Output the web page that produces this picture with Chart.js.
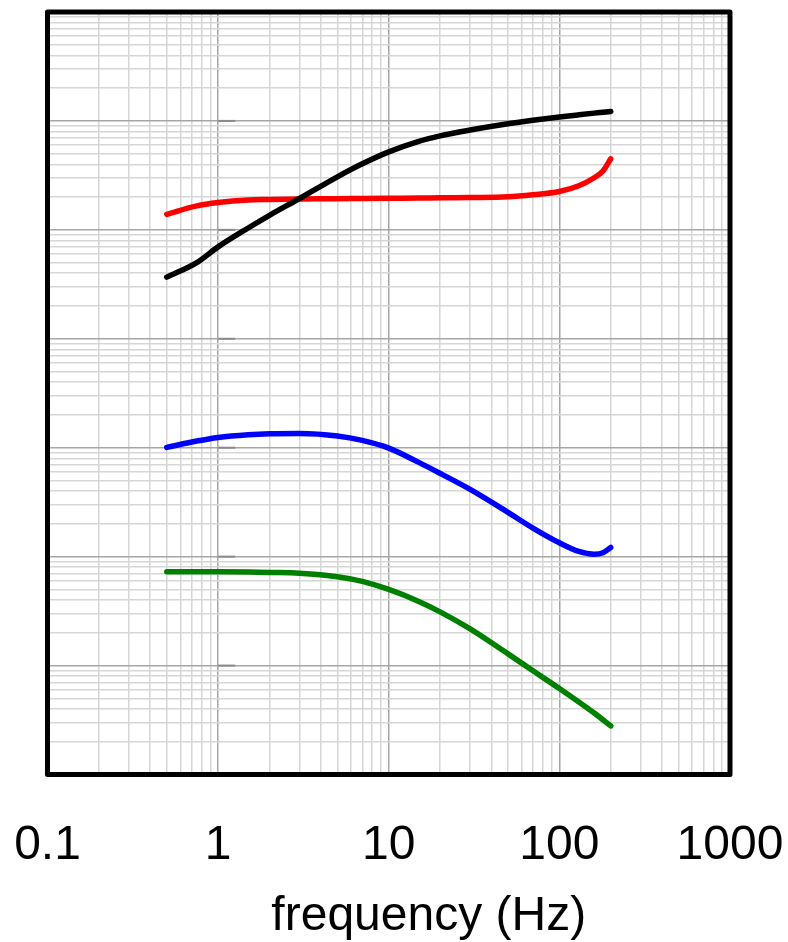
<!DOCTYPE html>
<html>
<head>
<meta charset="utf-8">
<script src="https://cdn.jsdelivr.net/npm/chart.js@4/dist/chart.umd.min.js"></script>
<style>
  html, body { margin: 0; padding: 0; background: #ffffff; }
  canvas { display: block; }
</style>
</head>
<body>
<canvas id="chart" width="788" height="942"></canvas>
<script>
// Sample frequencies (Hz) shared by all four curves
const frequency = [0.5, 0.75, 1, 1.5, 2, 3, 5, 7, 10, 15, 20, 30, 50, 70, 100, 130, 160, 180, 200];

// Curve values (log scale, arbitrary units)
const blackSeries = [36.8, 50.1, 69.8, 104, 136, 194, 307, 404, 520, 650, 730, 825, 941, 1013, 1086, 1138, 1179, 1202, 1223];
const redSeries   = [139, 166, 178, 188, 190, 192, 193, 194, 195, 196, 197, 198, 201, 210, 225, 254, 301, 347, 449];
const blueSeries  = [1.006, 1.152, 1.243, 1.318, 1.345, 1.352, 1.283, 1.167, 0.992, 0.733, 0.581, 0.414, 0.255, 0.183, 0.134, 0.1116, 0.1054, 0.1086, 0.1215];
const greenSeries = [0.0728, 0.0728, 0.0727, 0.0722, 0.0716, 0.0704, 0.0654, 0.0592, 0.0500, 0.0388, 0.0311, 0.0217, 0.0128, 0.00896, 0.00616, 0.00463, 0.00367, 0.00318, 0.00279];

// Axis ranges, labelled x decades and title
const xDecades = [0.1, 1, 10, 100, 1000];
const xTickLabels = ['0.1', '1', '10', '100', '1000'];
const yDecades = [0.001, 0.01, 0.1, 1, 10, 100, 1000, 10000];
const xTitle = 'frequency (Hz)';

const FONT = '"Liberation Sans", Arial, Helvetica, sans-serif';

// 1..9 x 10^n grid positions between the first and last decade
function logGrid(decades) {
  const out = [];
  for (let i = 0; i < decades.length - 1; i++) {
    for (let m = 1; m <= 9; m++) out.push({ value: +(m * decades[i]).toPrecision(6), major: m === 1 });
  }
  out.push({ value: decades[decades.length - 1], major: true });
  return out;
}
const isDecade = v => Math.abs(Math.log10(v) - Math.round(Math.log10(v))) < 1e-6;

const gridColor = ctx => (ctx.tick && isDecade(ctx.tick.value)) ? '#a6a6a6' : '#d6d6d6';

const toPoints = ys => frequency.map((f, i) => ({ x: f, y: ys[i] }));

function line(data, color) {
  return {
    data: toPoints(data),
    borderColor: color,
    backgroundColor: color,
    borderWidth: 5.5,
    borderCapStyle: 'round',
    borderJoinStyle: 'round',
    pointRadius: 0,
    cubicInterpolationMode: 'monotone',
    fill: false
  };
}

// Frame around the plot, short marks on the decade lines at 1 Hz, and the axis title
const framePlugin = {
  id: 'framePlugin',
  beforeDatasetsDraw(chart) {
    const { ctx, scales: { x, y } } = chart;
    const x0 = x.getPixelForValue(1);
    ctx.save();
    ctx.strokeStyle = '#8a8a8a';
    ctx.lineWidth = 2;
    yDecades.forEach(v => {
      const py = y.getPixelForValue(v);
      ctx.beginPath();
      ctx.moveTo(x0, py);
      ctx.lineTo(x0 + 17, py);
      ctx.stroke();
    });
    ctx.restore();
  },
  afterDraw(chart) {
    const { ctx, chartArea: { left, top, right, bottom } } = chart;
    ctx.save();
    ctx.strokeStyle = '#000000';
    ctx.lineWidth = 5;
    ctx.lineJoin = 'round';
    ctx.strokeRect(left, top, right - left, bottom - top);
    ctx.fillStyle = '#000000';
    ctx.font = '48px ' + FONT;
    ctx.textAlign = 'center';
    ctx.textBaseline = 'alphabetic';
    ctx.fillText(xTitle, (left + right) / 2 + 40, 930);
    ctx.restore();
  }
};

new Chart(document.getElementById('chart'), {
  type: 'line',
  data: {
    datasets: [
      line(blackSeries, '#000000'),
      line(redSeries, '#ff0000'),
      line(blueSeries, '#0000ff'),
      line(greenSeries, '#008000')
    ]
  },
  options: {
    responsive: false,
    animation: false,
    devicePixelRatio: 1,
    layout: { autoPadding: false, padding: { left: 47.5, right: 58, top: 12, bottom: 0 } },
    plugins: { legend: { display: false }, tooltip: { enabled: false } },
    scales: {
      x: {
        type: 'logarithmic',
        min: xDecades[0],
        max: xDecades[xDecades.length - 1],
        afterBuildTicks: s => { s.ticks = logGrid(xDecades); },
        afterFit: s => { s.height = 167.5; s.paddingLeft = 0; s.paddingRight = 0; },
        grid: { color: gridColor, lineWidth: 1.5, drawTicks: false },
        border: { display: false },
        ticks: {
          autoSkip: false,
          maxRotation: 0,
          minRotation: 0,
          padding: 47,
          color: '#000000',
          font: { family: FONT, size: 48, lineHeight: 1 },
          callback: v => {
            const i = xDecades.findIndex(d => Math.abs(d - v) < 1e-9 * d);
            return i >= 0 ? xTickLabels[i] : '';
          }
        }
      },
      y: {
        type: 'logarithmic',
        min: yDecades[0],
        max: yDecades[yDecades.length - 1],
        afterBuildTicks: s => { s.ticks = logGrid(yDecades); },
        afterFit: s => { s.width = 0; s.paddingTop = 0; s.paddingBottom = 0; },
        grid: { color: gridColor, lineWidth: 1.5, drawTicks: false },
        border: { display: false },
        ticks: { display: false }
      }
    }
  },
  plugins: [framePlugin]
});
</script>
</body>
</html>
